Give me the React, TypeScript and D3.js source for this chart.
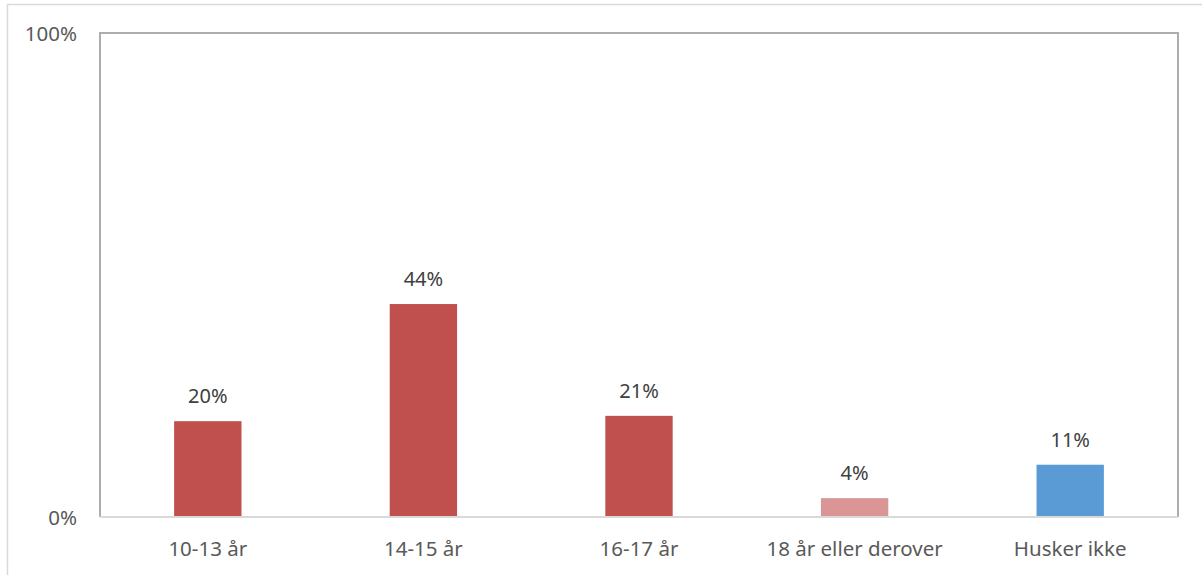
import React from "react";
import * as d3 from "d3";

const categories = ["10-13 år", "14-15 år", "16-17 år", "18 år eller derover", "Husker ikke"];
const values = [19.8, 44, 20.9, 3.9, 10.8];
const labels = ["20%", "44%", "21%", "4%", "11%"];
const colors = ["#C0504D", "#C0504D", "#C0504D", "#D99694", "#5B9BD5"];
const yTicks = [0, 100];
const yTickLabels = ["0%", "100%"];

const W = 1202;
const H = 575;
const left = 100;
const right = 1178;
const top = 33;
const bottom = 517;
const font = "'Noto Sans', 'Open Sans', sans-serif";

export default function App() {
  const x = d3.scaleBand<string>().domain(categories).range([left, right]).padding(0);
  const y = d3.scaleLinear().domain([0, 100]).range([bottom, top]);
  const barW = x.bandwidth() / 3.2;

  return (
    <svg
      width={W}
      height={H}
      style={{ position: "absolute", left: 0, top: 0, background: "#fff" }}
    >
      <rect x={0} y={0} width={W} height={H} fill="#fff" />
      {/* outer chart border */}
      <rect x={7.5} y={4.5} width={W + 10} height={H + 10} fill="none" stroke="#D9D9D9" strokeWidth={1.5} />
      {/* plot area border */}
      <path
        d={`M${left},${bottom} L${left},${top} L${right},${top} L${right},${bottom}`}
        fill="none"
        stroke="#ADADAD"
        strokeWidth={2}
      />
      {/* bars */}
      {categories.map((c, i) => {
        const cx = (x(c) as number) + x.bandwidth() / 2;
        return (
          <g key={c}>
            <rect
              x={cx - barW / 2}
              y={y(values[i])}
              width={barW}
              height={bottom - y(values[i])}
              fill={colors[i]}
            />
            <text
              x={cx}
              y={y(values[i]) - 18}
              textAnchor="middle"
              fontFamily={font}
              fontSize={20}
              fill="#404040"
            >
              {labels[i]}
            </text>
            <text
              x={cx}
              y={556}
              textAnchor="middle"
              fontFamily={font}
              fontSize={20.5}
              fill="#595959"
            >
              {c}
            </text>
          </g>
        );
      })}
      {/* x axis line */}
      <line x1={left} x2={right} y1={bottom} y2={bottom} stroke="#D9D9D9" strokeWidth={2} />
      {/* y tick labels */}
      {yTicks.map((t, i) => (
        <text
          key={t}
          x={77}
          y={y(t) + 8}
          textAnchor="end"
          fontFamily={font}
          fontSize={20.5}
          fill="#595959"
        >
          {yTickLabels[i]}
        </text>
      ))}
    </svg>
  );
}
